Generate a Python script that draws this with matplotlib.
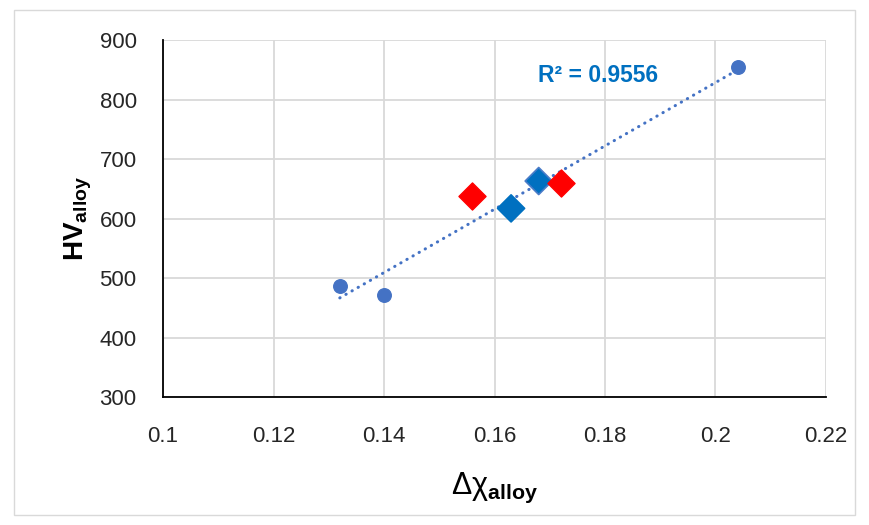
import numpy as np
import matplotlib
matplotlib.use("Agg")
import matplotlib.pyplot as plt
from matplotlib.patches import Rectangle

plt.rcParams["font.family"] = ["Liberation Sans", "DejaVu Sans"]
plt.rcParams["mathtext.fontset"] = "custom"
plt.rcParams["mathtext.rm"] = "Liberation Sans"
plt.rcParams["mathtext.bf"] = "Liberation Sans:bold"
plt.rcParams["mathtext.it"] = "Liberation Sans:italic"

# data
circle_x = [0.132, 0.140, 0.204]
circle_y = [487, 471, 855]
blue_dia_x = [0.163, 0.168]
blue_dia_y = [617, 663]
red_dia_x = [0.156, 0.172]
red_dia_y = [637, 659]

# linear trendline over all points
fit_x = np.array(circle_x + blue_dia_x + red_dia_x)
fit_y = np.array(circle_y + blue_dia_y + red_dia_y)
coef = np.polyfit(fit_x, fit_y, 1)
line_x = np.array([min(fit_x), max(fit_x)])
line_y = np.polyval(coef, line_x)

fig = plt.figure(figsize=(8.69, 5.25), dpi=100)
ax = fig.add_axes([0.1876, 0.2438, 0.7629, 0.68])

fig.patches.append(Rectangle((14 / 869, 1 - 515 / 525), 855 / 869 - 14 / 869, 505 / 525,
                             transform=fig.transFigure, fill=False,
                             edgecolor="#d9d9d9", linewidth=1))

ax.plot(line_x, line_y, color="#4472C4", linewidth=2.2,
        linestyle=(0, (0.1, 2.2)), dash_capstyle="round", zorder=2)

ax.scatter(circle_x, circle_y, s=95, color="#4472C4", zorder=3)
ax.scatter(blue_dia_x, blue_dia_y, s=190, marker="D", color="#0070C0",
           edgecolor=["#0070C0", "#4a7cc8"], linewidth=1.2, zorder=3)
ax.scatter(red_dia_x, red_dia_y, s=190, marker="D", color="#FF0000", zorder=3)

ax.text(0.1679, 841, "R² = 0.9556", color="#0070C0", fontsize=16.5,
        fontweight="bold", ha="left", va="center")

ax.set_xlim(0.1, 0.22)
ax.set_ylim(300, 900)
ax.set_xticks(np.arange(0.1, 0.2201, 0.02))
ax.set_xticklabels(["0.1", "0.12", "0.14", "0.16", "0.18", "0.2", "0.22"])
ax.set_yticks(range(300, 901, 100))
ax.tick_params(axis="y", length=0, labelsize=16, pad=19, labelcolor="#262626")
ax.tick_params(axis="x", length=0, labelsize=16, pad=21, labelcolor="#262626")

ax.grid(True, color="#d9d9d9", linewidth=1.3)
ax.set_axisbelow(True)
for s in ["top", "right"]:
    ax.spines[s].set_visible(False)
for s in ["left", "bottom"]:
    ax.spines[s].set_linewidth(1.3)

ax.set_ylabel(r"$\mathbf{HV_{alloy}}$", fontsize=20, labelpad=4)
ax.set_xlabel(r"Δχ$_{\mathbf{alloy}}$", fontsize=22, labelpad=17)

fig.savefig("out.png", dpi=100)
